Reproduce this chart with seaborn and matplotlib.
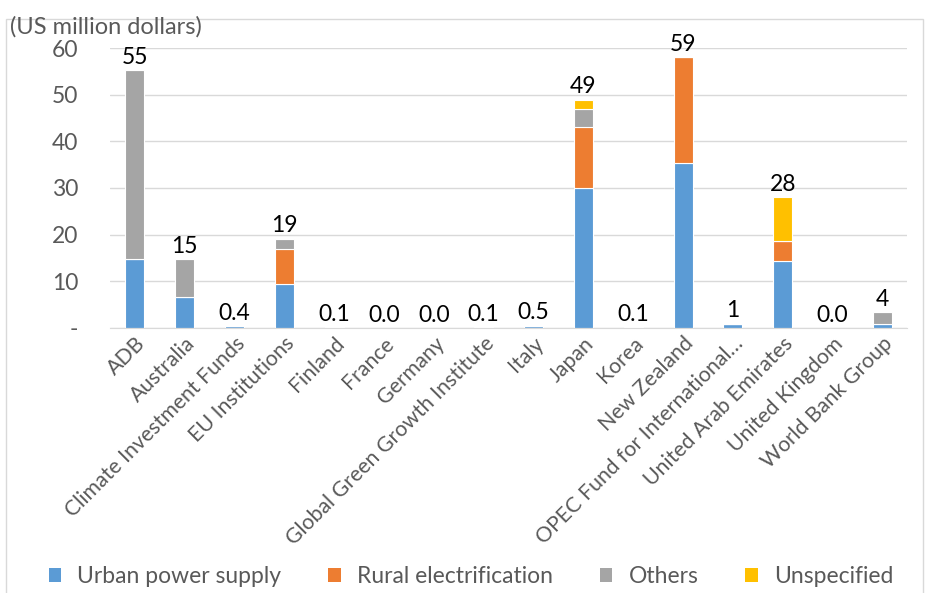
import numpy as np
import pandas as pd
import matplotlib
matplotlib.use("Agg")
import matplotlib.pyplot as plt
from matplotlib.patches import Patch, Rectangle
import seaborn as sns

### Data
donors = ["ADB", "Australia", "Climate Investment Funds", "EU Institutions",
          "Finland", "France", "Germany", "Global Green Growth Institute",
          "Italy", "Japan", "Korea", "New Zealand",
          "OPEC Fund for International\u2026", "United Arab Emirates",
          "United Kingdom", "World Bank Group"]
urban = [14.8, 6.7, 0.4, 9.4, 0.1, 0.0, 0.0, 0.1, 0.5, 30.1, 0.1, 35.4, 0.9, 14.4, 0.0, 0.9]
rural = [0.0, 0.0, 0.0, 7.5, 0.0, 0.0, 0.0, 0.0, 0.0, 13.0, 0.0, 22.7, 0.0, 4.2, 0.0, 0.0]
others = [40.5, 8.1, 0.0, 2.2, 0.0, 0.0, 0.0, 0.0, 0.0, 3.9, 0.0, 0.0, 0.0, 0.0, 0.0, 2.5]
unspecified = [0.0, 0.0, 0.0, 0.0, 0.0, 0.0, 0.0, 0.0, 0.0, 1.9, 0.0, 0.0, 0.0, 9.5, 0.0, 0.0]
total_labels = ["55", "15", "0.4", "19", "0.1", "0.0", "0.0", "0.1", "0.5",
                "49", "0.1", "59", "1", "28", "0.0", "4"]

series_names = ["Urban power supply", "Rural electrification", "Others", "Unspecified"]
colors = ["#5B9BD5", "#ED7D31", "#A5A5A5", "#FFC000"]

sns.set_style("white")
plt.rcParams["font.family"] = ["Lato", "DejaVu Sans"]

df = pd.DataFrame({"donor": donors, series_names[0]: urban, series_names[1]: rural,
                   series_names[2]: others, series_names[3]: unspecified})

fig = plt.figure(figsize=(9.27, 5.93), dpi=100)
ax = fig.add_axes([0.1187, 0.447, 0.860, 0.472])

bottom = np.zeros(len(donors))
for name, col in zip(series_names, colors):
    sns.barplot(data=df, x="donor", y=name, color=col, bottom=bottom, width=0.38,
                edgecolor="white", linewidth=0.8, ax=ax, saturation=1)
    bottom = bottom + df[name].values

## total labels above each bar
for i, lab in enumerate(total_labels):
    ax.text(i, bottom[i] + 0.5, lab, ha="center", va="bottom", fontsize=16.5, color="black")

ax.set_ylim(0, 60)
ax.set_xlim(-0.5, len(donors) - 0.5)
ax.set_yticks(range(0, 61, 10))
ax.set_yticklabels(["-"] + [str(v) for v in range(10, 61, 10)])
ax.yaxis.grid(True, color="#D9D9D9", linewidth=1)
ax.set_axisbelow(True)
for s in ["top", "right", "left"]:
    ax.spines[s].set_visible(False)
ax.spines["bottom"].set_color("#D9D9D9")
ax.tick_params(axis="y", labelsize=16.5, colors="#595959", length=0, pad=23)
ax.tick_params(axis="x", labelsize=15.3, colors="#595959", length=0, pad=4)
plt.setp(ax.get_xticklabels(), rotation=45, ha="right", rotation_mode="anchor")
ax.set_xlabel("")
ax.set_ylabel("")

fig.text(0.011, 0.955, "(US million dollars)", fontsize=17, color="#595959", va="center")

# chart border
fig.add_artist(Rectangle((0.006, -0.01), 0.99, 0.978, transform=fig.transFigure,
                         fill=False, edgecolor="#D9D9D9", linewidth=1))

handles = [Patch(facecolor=c, edgecolor="none") for c in colors]
fig.legend(handles, series_names, loc="center", bbox_to_anchor=(0.508, 0.027), ncol=4,
           frameon=False, fontsize=16.5, handlelength=0.55, handleheight=0.55,
           handletextpad=0.7, columnspacing=2.05, labelcolor="#595959")

fig.savefig("out.png", dpi=100)
